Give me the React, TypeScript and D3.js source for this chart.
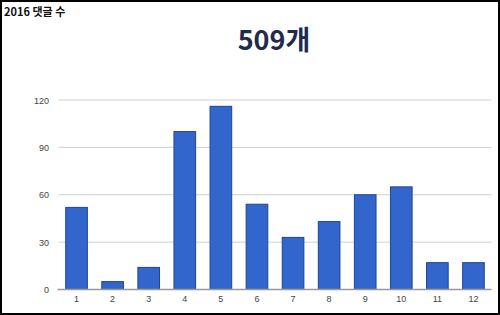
import React from "react";
import * as d3 from "d3";

const months = ["1", "2", "3", "4", "5", "6", "7", "8", "9", "10", "11", "12"];
const comments = [52, 5, 14, 100, 116, 54, 33, 43, 60, 65, 17, 17];
const yTicks = [0, 30, 60, 90, 120];
const chartTitle = "2016 댓글 수";
const headline = "509개";

const W = 500;
const H = 315;
const left = 58.5;
const right = 491.5;
const top = 100;
const bottom = 289.5;

export default function App() {
  const x = d3.scaleBand<string>().domain(months).range([left, right]).paddingInner(0.4).paddingOuter(0.2);
  const y = d3.scaleLinear().domain([0, 120]).range([bottom, top]);
  const font = "Arial, 'Liberation Sans', sans-serif";
  return (
    <div style={{ position: "fixed", left: 0, top: 0 }}>
      <svg width={W} height={H} style={{ display: "block" }}>
        <rect x={0} y={0} width={W} height={H} fill="#fff" />
        {yTicks.filter((t) => t > 0).map((t) => (
          <line key={t} x1={left} x2={right} y1={y(t)} y2={y(t)} stroke="#d0d0d0" strokeWidth={1} />
        ))}
        {yTicks.map((t) => (
          <text key={"l" + t} x={49} y={y(t) + 3.5} textAnchor="end" fontSize={9} fill="#444" fontFamily={font}>
            {t}
          </text>
        ))}
        {comments.map((v, i) => (
          <rect
            key={i}
            x={x(months[i])!}
            y={y(v)}
            width={x.bandwidth()}
            height={y(0) - y(v)}
            fill="#3366cc"
            stroke="#1f4591"
            strokeWidth={1}
          />
        ))}
        <line x1={left - 1} x2={right} y1={y(0)} y2={y(0)} stroke="#999" strokeWidth={1.5} />
        {months.map((m) => (
          <text key={"x" + m} x={x(m)! + x.bandwidth() / 2} y={302} textAnchor="middle" fontSize={9} fill="#444" fontFamily={font}>
            {m}
          </text>
        ))}
        <text x={4} y={16} fontSize={11} fontWeight="bold" fill="#111" fontFamily="'Noto Sans CJK KR', sans-serif">
          {chartTitle}
        </text>
        <text x={274} y={50} textAnchor="middle" fontSize={27} fontWeight="bold" fill="#222b4d" fontFamily="'Noto Sans CJK KR', sans-serif">
          {headline}
        </text>
        <rect x={1} y={1} width={W - 2} height={H - 2} fill="none" stroke="#000" strokeWidth={2} />
      </svg>
    </div>
  );
}
